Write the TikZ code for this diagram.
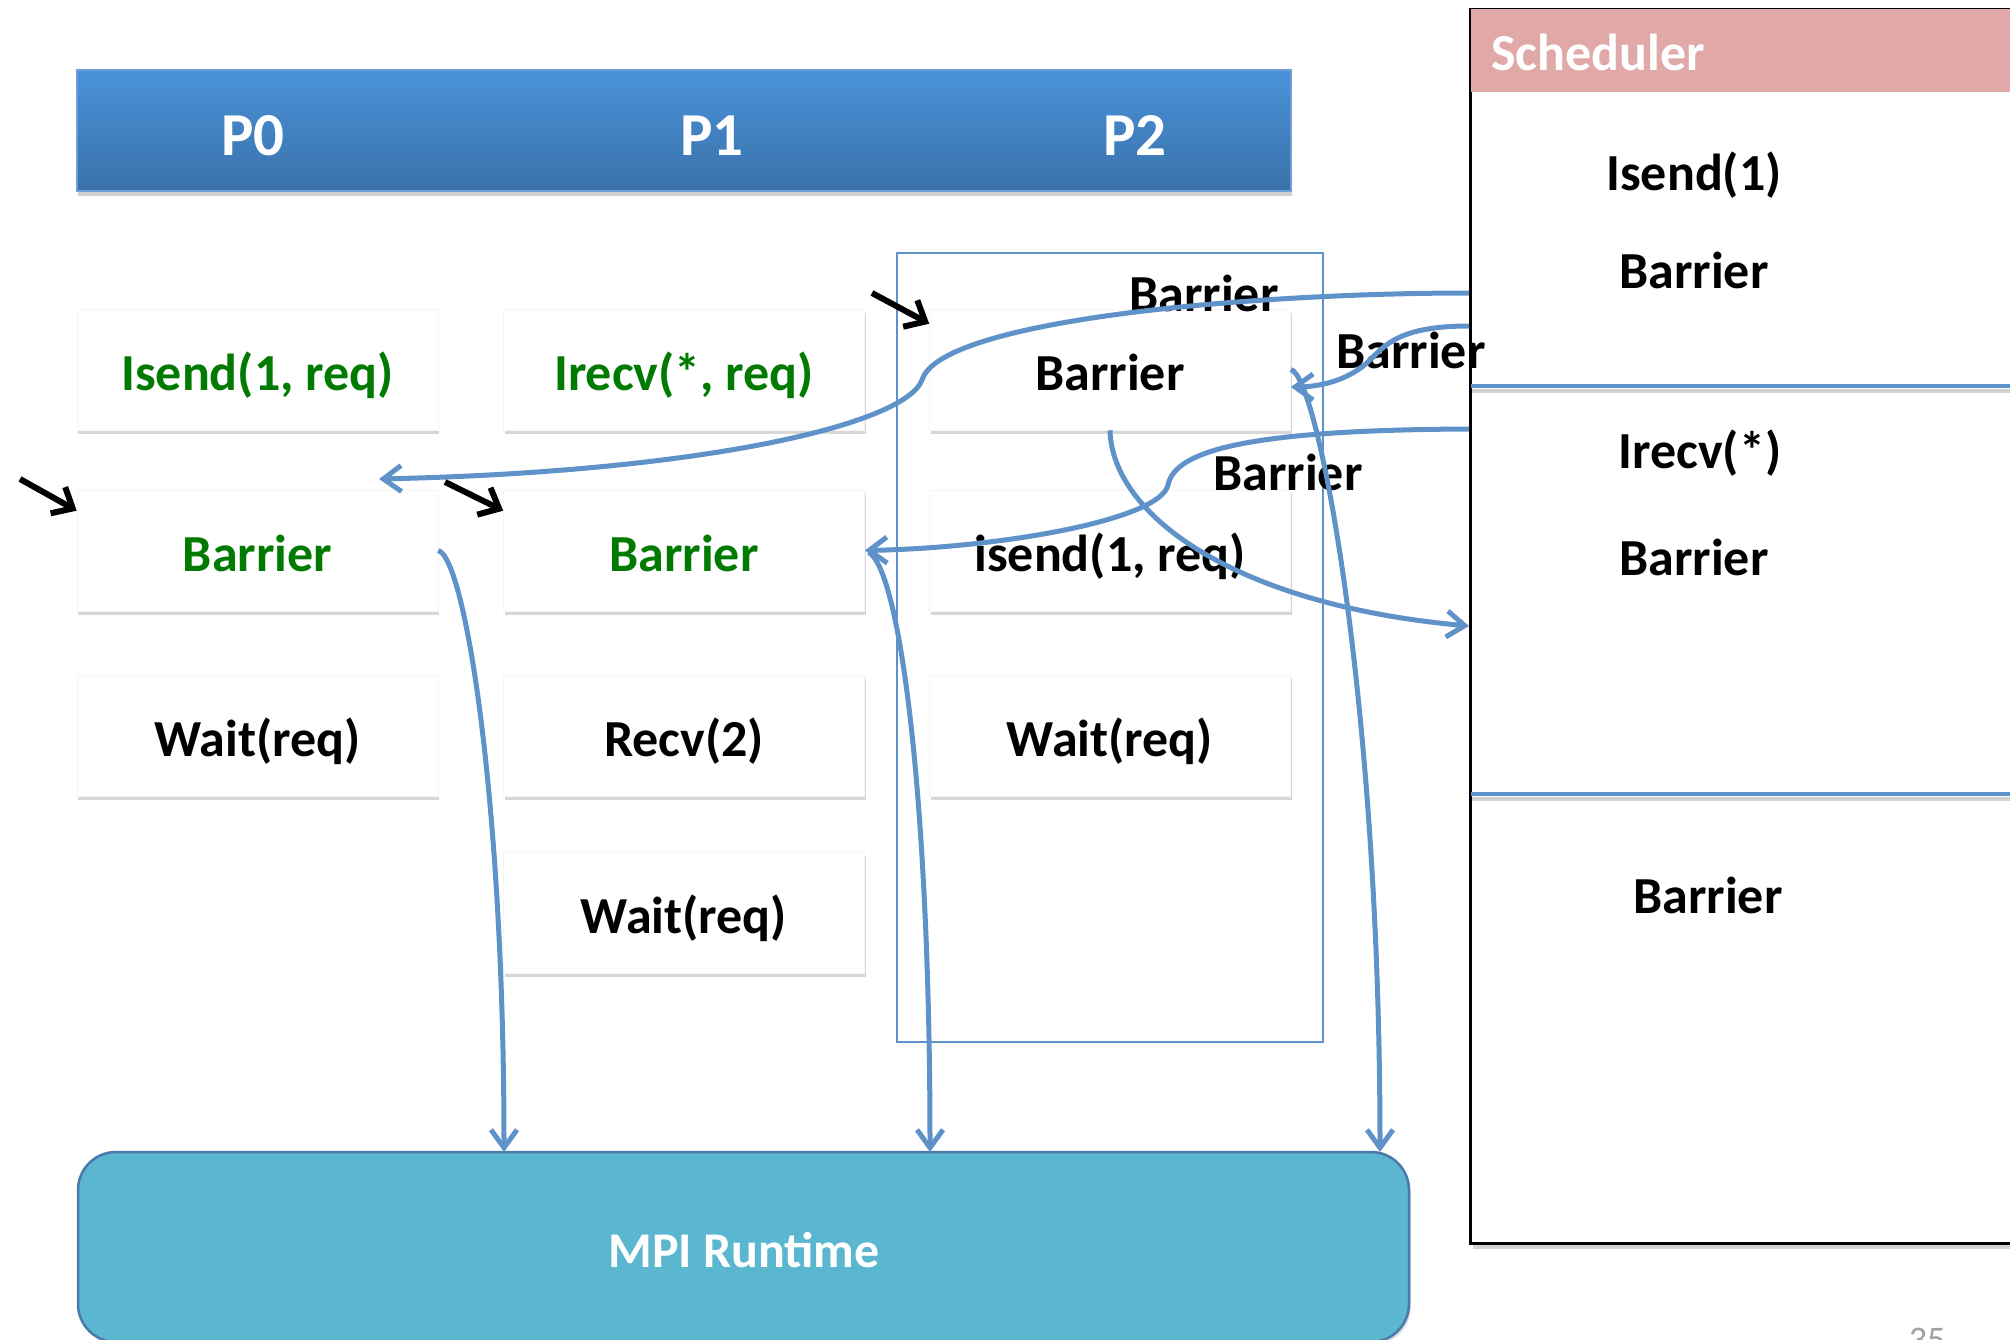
\documentclass[tikz,border=0pt]{standalone}
\usepackage{fontspec}
\setmainfont{Carlito}
\usetikzlibrary{arrows.meta,shadows,calc}

\definecolor{linkblue}{RGB}{96,146,202}
\definecolor{bartop}{RGB}{74,146,216}
\definecolor{barbot}{RGB}{57,113,170}
\definecolor{baredge}{RGB}{110,160,215}
\definecolor{schedpink}{RGB}{225,168,168}
\definecolor{runtimefill}{RGB}{91,182,208}
\definecolor{runtimeedge}{RGB}{74,122,172}
\definecolor{callgreen}{RGB}{0,122,0}
\definecolor{pagegray}{RGB}{160,160,160}

\newcommand\callfont{\fontsize{52}{62}\selectfont\bfseries}
\newcommand\procfont{\fontsize{61}{72}\selectfont\bfseries}

\begin{document}
\begin{tikzpicture}[x=1pt,y=-1pt,
  callbox/.style={rectangle, fill=white, draw=black!4, line width=0.6pt,
    minimum width=361pt, minimum height=121pt, inner sep=0pt,
    font=\callfont, text height=41pt, text depth=0pt,
    drop shadow={shadow xshift=1pt, shadow yshift=-4pt, opacity=0.22, fill=black!70}},
  greencall/.style={callbox, text=callgreen},
  schedtext/.style={font=\callfont, anchor=base, inner sep=0pt},
  link/.style={draw=linkblue, line width=5pt, -{Straight Barb[length=18pt,width=26pt]}},
  nudge/.style={draw=black, line width=6pt, -{Straight Barb[length=17pt,width=30pt]}},
  sepline/.style={draw=linkblue, line width=4.5pt}]

\path[use as bounding box] (0,0) rectangle (2010,1340);
\clip (0,0) rectangle (2010,1340);
\fill[white] (0,0) rectangle (2010,1340);

% process header bar
\node[rectangle, minimum width=1214pt, minimum height=121pt, inner sep=0pt,
      top color=bartop, bottom color=barbot, draw=baredge, line width=1.5pt,
      drop shadow={shadow xshift=1pt, shadow yshift=-5pt, opacity=0.3, fill=black!60}]
      (bar) at (684,130.5) {};
\node[font=\procfont, text=white, anchor=base, inner sep=0pt] (lp0) at (253,156) {P0};
\node[font=\procfont, text=white, anchor=base, inner sep=0pt] (lp1) at (712,156) {P1};
\node[font=\procfont, text=white, anchor=base, inner sep=0pt] (lp2) at (1135,156) {P2};

% frame round the P2 column
\node[rectangle, draw=linkblue, line width=2pt, minimum width=426pt,
      minimum height=789pt, inner sep=0pt] (p2frame) at (1110,647.5) {};

% call boxes
\node[greencall] (p0a)    at (257.5,369.5) {Isend(1, req)};
\node[greencall] (p0bar)  at (257.5,550.5) {Barrier};
\node[callbox]   (p0wait) at (257.5,735.5) {Wait(req)};

\node[greencall] (p1a)    at (684,369.5) {Irecv(*, req)};
\node[greencall] (p1bar)  at (684,550.5) {Barrier};
\node[callbox]   (p1recv) at (684,735.5) {Recv(2)};
\node[callbox]   (p1wait) at (684,912.5) {Wait(req)};

\node[callbox]   (p2bar)  at (1110,369.5) {Barrier};
\node[callbox]   (p2send) at (1110,550.5) {isend(1, req)};
\node[callbox]   (p2wait) at (1110,735.5) {Wait(req)};

% scheduler panel
\node[rectangle, anchor=north west, fill=white, draw=black, line width=3pt,
      minimum width=600pt, minimum height=1234pt, inner sep=0pt,
      drop shadow={shadow xshift=2pt, shadow yshift=-5pt, opacity=0.25, fill=black!70}]
      (sched) at (1469,8) {};
\fill[schedpink] (1470.5,9.5) rectangle (2012,92);
\node[font=\callfont, text=white, anchor=base west, inner sep=0pt] (schedtitle) at (1491,71) {Scheduler};
\draw[black, opacity=0.18, line width=4pt] (1471,391) -- (2012,391);
\draw[black, opacity=0.18, line width=4pt] (1471,799) -- (2012,799);
\draw[sepline] (1470.5,386) -- (2012,386);
\draw[sepline] (1470.5,794) -- (2012,794);
\node[schedtext] (q1) at (1694,191) {Isend(1)};
\node[schedtext] (q2) at (1694,288) {Barrier};
\node[schedtext] (q3) at (1700,468) {Irecv(*)};
\node[schedtext] (q4) at (1694,575) {Barrier};
\node[schedtext] (q5) at (1708,913) {Barrier};

% MPI runtime
\node[rectangle, rounded corners=38pt, fill=runtimefill, draw=runtimeedge,
      line width=2.5pt, minimum width=1331pt, minimum height=190pt, inner sep=0pt,
      drop shadow={shadow xshift=2pt, shadow yshift=-3pt, opacity=0.2, fill=black!60}]
      (mpi) at (743.5,1247) {};
\node[font=\fontsize{50}{60}\selectfont\bfseries, text=white, anchor=base, inner sep=0pt]
      (mpilabel) at (744,1267) {MPI Runtime};

% page number
\node[font=\fontsize{36}{42}\selectfont, text=pagegray, anchor=base, inner sep=0pt]
      (pageno) at (1927,1351) {35};

% labels on the scheduler messages
\node[schedtext] (m1label) at (1204,312) {Barrier};
\node[schedtext] (m2label) at (1411,368) {Barrier};
\node[schedtext] (m3label) at (1288,490) {Barrier};

% end points on the scheduler and the runtime
\coordinate (s1) at (1469,293);
\coordinate (s2) at (1469,326);
\coordinate (s3) at (1469,429);
\coordinate (s4) at (1469,626);
\coordinate (t1) at (379,479);
\coordinate (r0) at (504,1152);
\coordinate (r1) at (930,1152);
\coordinate (r2) at (1380,1152);

% message flow
\draw[link] (s1) .. controls (1250,293) and (940,320) .. (922,380)
                 .. controls (905,425) and (700,472) .. (t1);
\draw[link] (s2) .. controls (1400,326) and (1385,345) .. (1370,360)
                 .. controls (1350,380) and (1320,387) .. ([yshift=-17.5pt]p2bar.east);
\draw[link] (s3) .. controls (1250,430) and (1175,450) .. (1168,485)
                 .. controls (1160,520) and (1000,548) .. (p1bar.east);
\draw[link] (p2bar.south) .. controls (1112,515) and (1235,605) .. (s4);
\draw[link] (p0bar.east) .. controls (465,558) and (504,800) .. (r0);
\draw[link] ([xshift=4pt,yshift=-2pt]p1bar.east) .. controls (900,570) and (930,800) .. (r1);
\draw[link] (p2bar.east) .. controls (1318,375) and (1380,700) .. (r2);

% current-position markers
\coordinate (k0) at (20,479);
\coordinate (k1) at (445,482);
\coordinate (k2) at (872,293);
\draw[nudge] (k0) -- ([yshift=-21pt]p0bar.north west);
\draw[nudge] (k1) -- ([yshift=-21pt]p1bar.north west);
\draw[nudge] (k2) -- ([yshift=-15pt]p2bar.north west);
\end{tikzpicture}
\end{document}
